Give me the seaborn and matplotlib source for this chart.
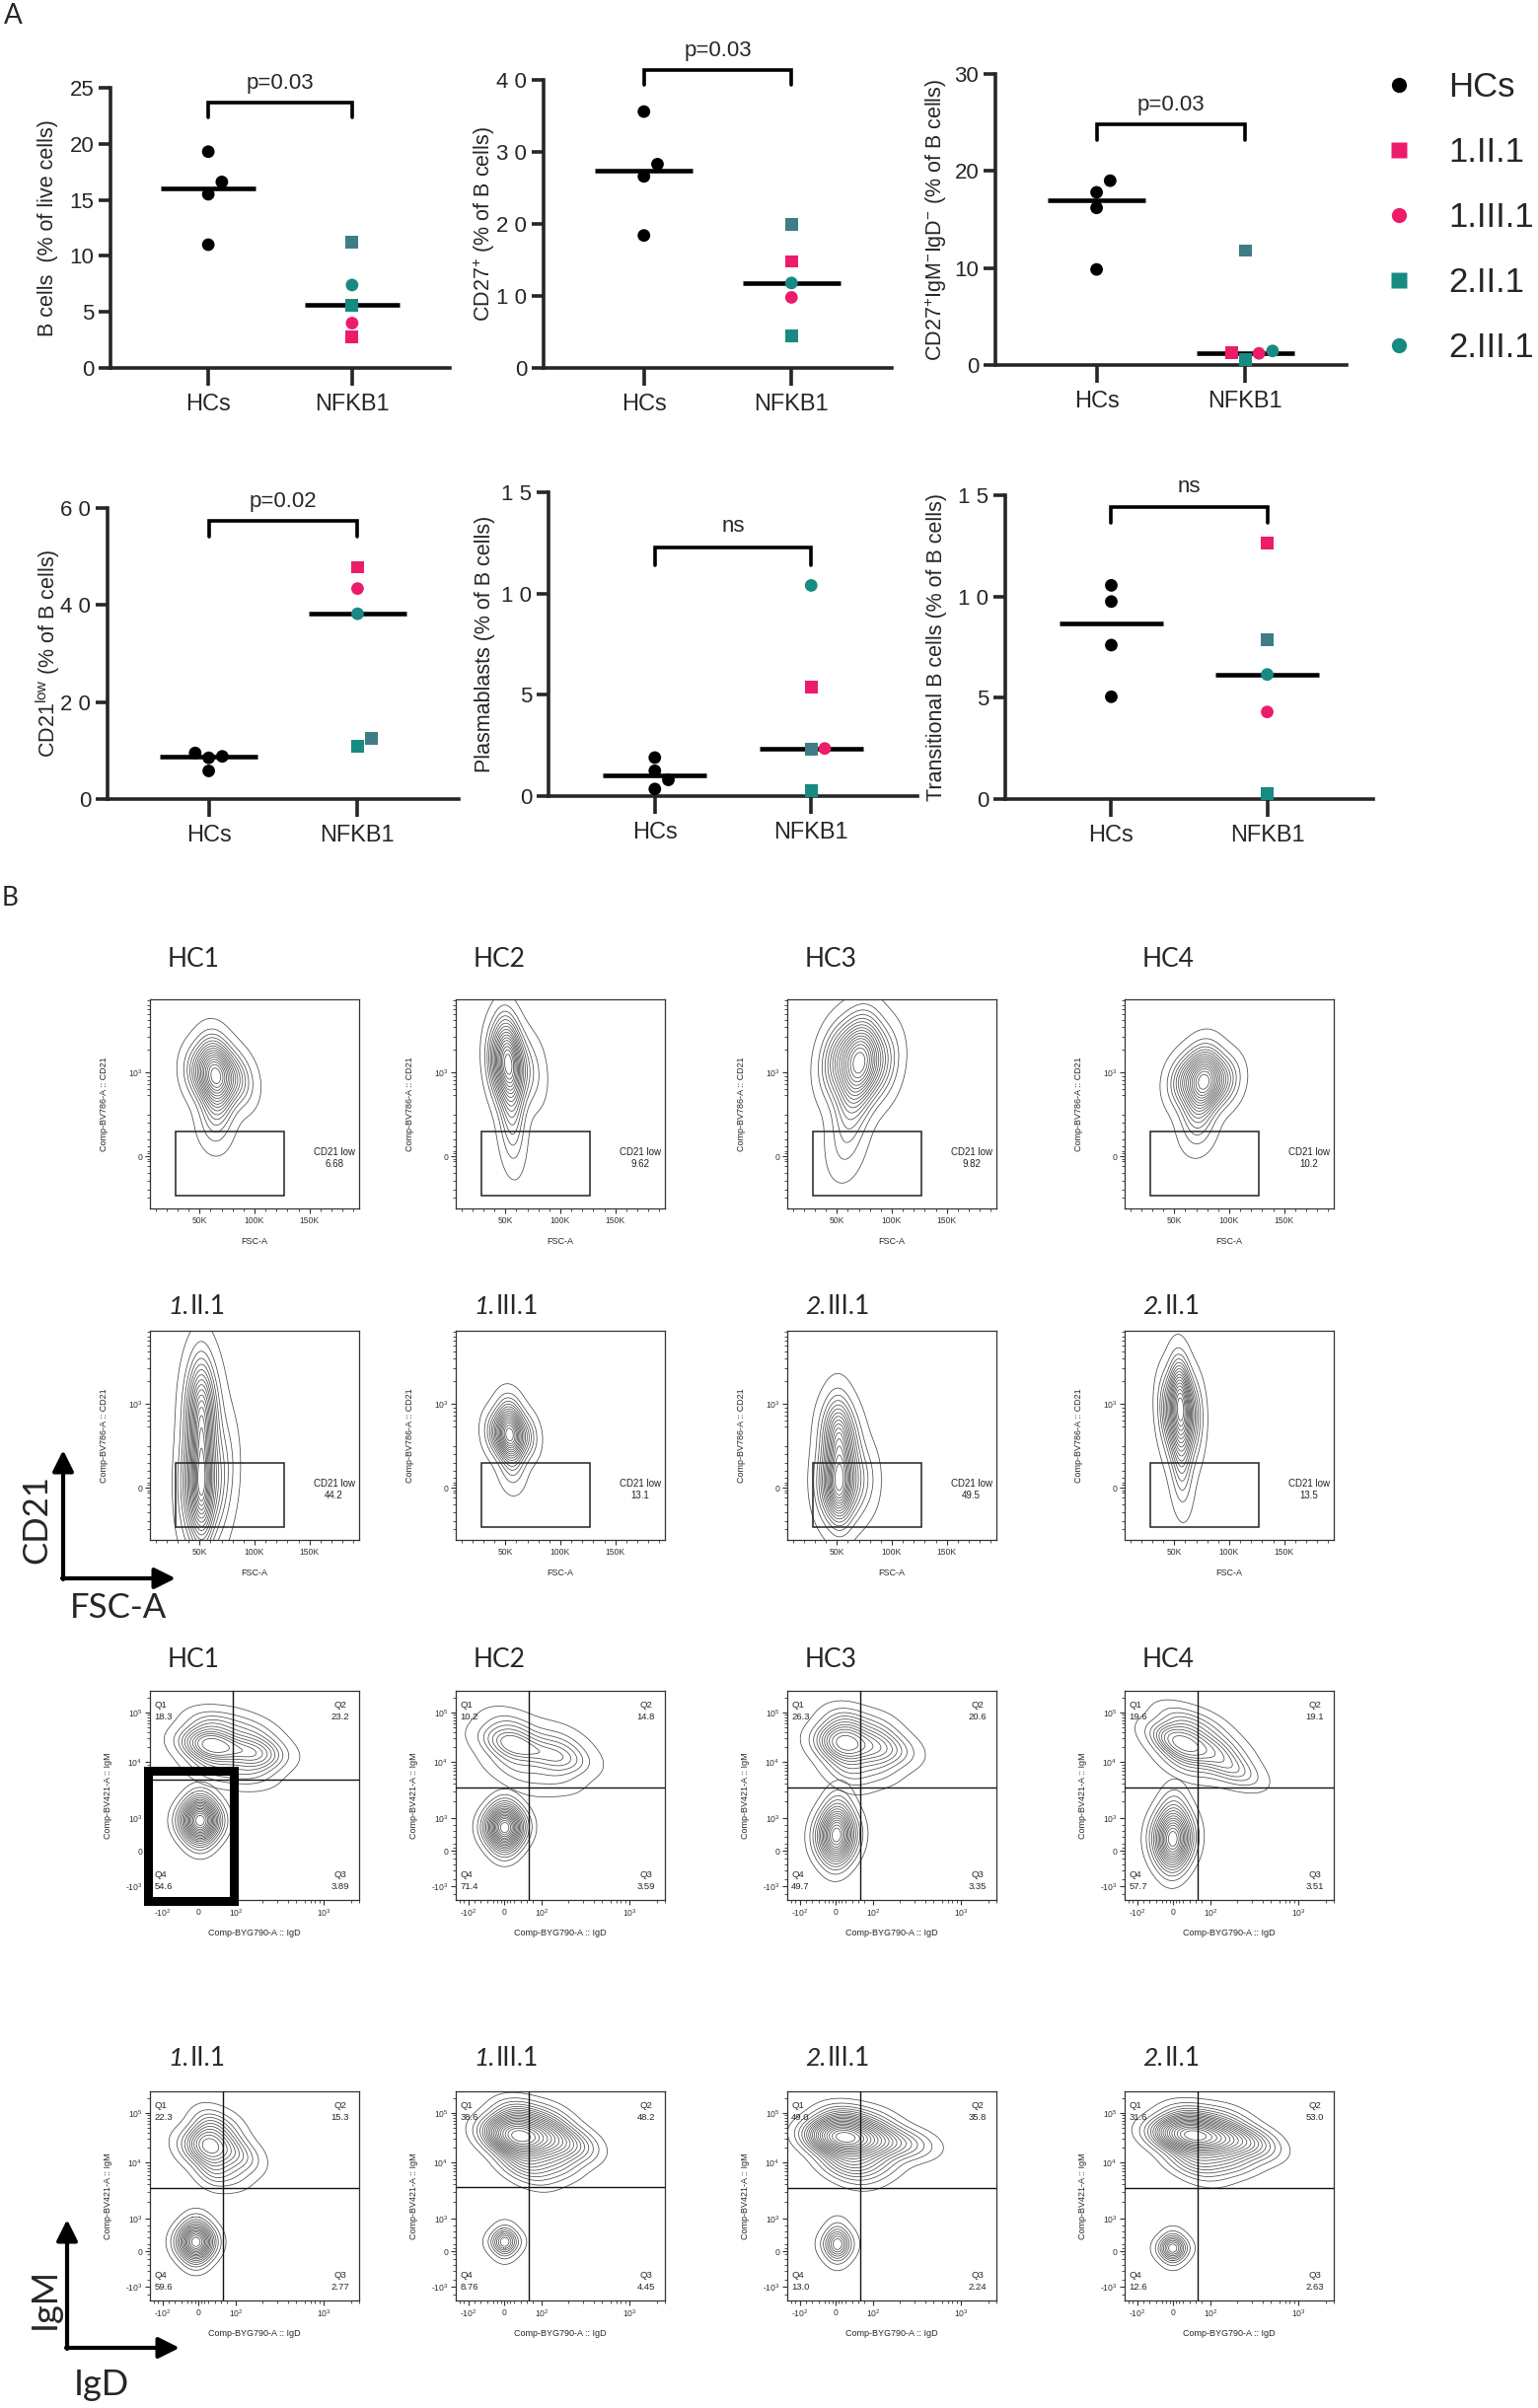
import numpy as np
import pandas as pd
import matplotlib
matplotlib.use("Agg")
import matplotlib.pyplot as plt
import seaborn as sns
from matplotlib.lines import Line2D
from matplotlib.patches import Rectangle, FancyArrowPatch

# ====================== DATA : panel A ======================
X_GROUPS = ["HCs", "NFKB1"]
NFKB1_IDS = ["1.II.1", "1.III.1", "2.II.1", "2.III.1", "2.II.1b"]
LEGEND_IDS = ["HCs", "1.II.1", "1.III.1", "2.II.1", "2.III.1"]

HC_BCELLS = [19.3, 16.6, 15.5, 11.0]
NF_BCELLS = [2.8, 4.0, 5.6, 7.4, 11.2]
HC_CD27 = [35.6, 28.3, 26.6, 18.4]
NF_CD27 = [14.8, 9.8, 4.4, 11.8, 19.9]
HC_SWITCHED = [19.0, 17.8, 16.2, 9.85]
NF_SWITCHED = [1.25, 1.2, 0.6, 1.45, 11.8]
HC_CD21LOW = [9.5, 8.8, 8.5, 5.8]
NF_CD21LOW = [47.8, 43.4, 10.8, 38.2, 12.5]
HC_PLASMA = [1.9, 1.25, 0.8, 0.35]
NF_PLASMA = [5.4, 2.35, 0.25, 10.4, 2.3]
HC_TRANS = [10.55, 9.75, 7.6, 5.05]
NF_TRANS = [12.65, 4.3, 0.25, 6.15, 7.85]

Y_LABELS = [
    "B cells  (% of live cells)",
    r"CD27$^{+}$ (% of B cells)",
    r"CD27$^{+}$IgM$^{-}$IgD$^{-}$ (% of B cells)",
    r"CD21$^{\rm low}$ (% of B cells)",
    "Plasmablasts (% of B cells)",
    "Transitional B cells (% of B cells)",
]
Y_MAX = [25, 40, 30, 60, 15, 15]
Y_TICKS = [[0, 5, 10, 15, 20, 25], [0, 10, 20, 30, 40], [0, 10, 20, 30],
           [0, 20, 40, 60], [0, 5, 10, 15], [0, 5, 10, 15]]
Y_TICK_LABELS = [["0", "5", "10", "15", "20", "25"], ["0", "1 0", "2 0", "3 0", "4 0"],
                 ["0", "10", "20", "30"], ["0", "2 0", "4 0", "6 0"],
                 ["0", "5", "1 0", "1 5"], ["0", "5", "1 0", "1 5"]]
P_TEXT = ["p=0.03", "p=0.03", "p=0.03", "p=0.02", "ns", "ns"]
BRACKET_Y = [(22.4, 23.7, 25.4), (39.3, 41.4, 44.0), (23.2, 24.8, 26.8),
             (54.1, 57.3, 61.4), (11.4, 12.25, 13.3), (13.65, 14.43, 15.4)]

# ====================== DATA : panel B ======================
ROW_HC = ["HC1", "HC2", "HC3", "HC4"]
ROW_PT = ["1.II.1", "1.III.1", "2.III.1", "2.II.1"]
CD21LOW_HC = ["6.68", "9.62", "9.82", "10.2"]
CD21LOW_PT = ["44.2", "13.1", "49.5", "13.5"]
# quadrant frequencies Q1, Q2, Q3, Q4
QUAD_HC1 = ["18.3", "23.2", "3.89", "54.6"]
QUAD_HC2 = ["10.2", "14.8", "3.59", "71.4"]
QUAD_HC3 = ["26.3", "20.6", "3.35", "49.7"]
QUAD_HC4 = ["19.6", "19.1", "3.51", "57.7"]
QUAD_1II1 = ["22.3", "15.3", "2.77", "59.6"]
QUAD_1III1 = ["38.6", "48.2", "4.45", "8.76"]
QUAD_2III1 = ["49.0", "35.8", "2.24", "13.0"]
QUAD_2II1 = ["31.6", "53.0", "2.63", "12.6"]

# population density anchors
# CD21 plots: (FSC-A [K], CD21 display unit, weight)
CD21_HC1 = [(65, 0.95, 6), (50, 1.0, 2), (80, 0.95, 2), (63, 1.2, 2), (66, 0.65, 2),
            (63, 0.35, 0.8), (90, 0.85, 0.6)]
CD21_HC2 = [(54, 1.1, 6), (44, 1.1, 3), (66, 1.05, 1.5), (52, 1.35, 2), (55, 0.75, 2),
            (56, 0.4, 1), (56, 0.1, 0.4), (78, 1.0, 0.5)]
CD21_HC3 = [(72, 1.12, 6), (52, 1.15, 3), (90, 1.1, 2), (70, 1.35, 2), (66, 0.8, 2),
            (62, 0.45, 0.8), (58, 0.1, 0.6)]
CD21_HC4 = [(78, 0.88, 6), (60, 0.9, 2.5), (95, 0.9, 2), (76, 1.1, 2), (72, 0.6, 2),
            (72, 0.3, 0.8)]
CD21_1II1 = [(52, 0.9, 4), (42, 0.9, 1.2), (63, 0.88, 1.2), (52, 1.1, 1.2), (52, 0.5, 2.0),
             (52, 0.0, 6), (40, 0.0, 2), (66, 0.03, 2), (52, -0.3, 1.5), (76, 0.3, 0.8)]
CD21_1III1 = [(54, 0.63, 6), (42, 0.65, 1.5), (68, 0.62, 1.5), (54, 0.88, 1.5),
              (56, 0.38, 1.2), (56, 0.15, 0.4)]
CD21_2III1 = [(52, 0.6, 3.5), (42, 0.6, 1.2), (64, 0.55, 1.2), (52, 0.82, 1.2), (52, 0.03, 6),
              (40, 0.03, 2), (66, 0.05, 2), (78, 0.12, 0.8), (52, -0.2, 1), (54, 0.3, 1.5)]
CD21_2II1 = [(56, 0.95, 6), (44, 0.95, 2), (68, 0.92, 1.5), (55, 1.22, 2), (56, 0.6, 2),
             (48, 0.6, 0.6), (66, 0.6, 0.6), (57, 0.25, 1), (57, -0.02, 0.4)]

# IgM/IgD plots: (IgD display fraction, IgM display fraction, weight), per population
IGM_HC1_Q4 = [(0.24, 0.38, 6), (0.175, 0.38, 1.6), (0.305, 0.38, 1.6), (0.24, 0.30, 1.5),
              (0.24, 0.46, 1.5)]
IGM_HC1_UP = [(0.29, 0.74, 3), (0.50, 0.70, 2), (0.38, 0.73, 1), (0.21, 0.74, 0.6),
              (0.59, 0.71, 0.5), (0.29, 0.84, 1.0), (0.29, 0.63, 0.8), (0.50, 0.80, 0.7),
              (0.49, 0.61, 0.7), (0.40, 0.60, 0.4), (0.40, 0.85, 0.4)]
IGM_HC2_Q4 = [(0.234, 0.345, 6), (0.17, 0.35, 1.6), (0.298, 0.35, 1.6), (0.234, 0.265, 1.5),
              (0.234, 0.425, 1.5)]
IGM_HC2_UP = [(0.27, 0.745, 1.5), (0.49, 0.68, 1), (0.38, 0.71, 0.5), (0.20, 0.75, 0.3),
              (0.56, 0.69, 0.3), (0.27, 0.83, 0.6), (0.27, 0.64, 0.5), (0.49, 0.77, 0.4),
              (0.47, 0.59, 0.4), (0.35, 0.56, 0.2)]
IGM_HC3_Q4 = [(0.235, 0.31, 5), (0.17, 0.31, 1.3), (0.30, 0.31, 1.3), (0.235, 0.23, 1.2),
              (0.235, 0.40, 1.2), (0.25, 0.48, 0.4)]
IGM_HC3_UP = [(0.28, 0.75, 3), (0.43, 0.73, 1.5), (0.54, 0.71, 0.6), (0.20, 0.75, 0.7),
              (0.28, 0.85, 1.0), (0.28, 0.64, 0.8), (0.43, 0.82, 0.6), (0.43, 0.63, 0.6),
              (0.32, 0.57, 0.3)]
IGM_HC4_Q4 = [(0.23, 0.29, 5), (0.165, 0.30, 1.3), (0.295, 0.30, 1.3), (0.23, 0.21, 1.2),
              (0.23, 0.39, 1.2), (0.24, 0.48, 0.4)]
IGM_HC4_UP = [(0.28, 0.75, 2.5), (0.42, 0.72, 1), (0.54, 0.62, 0.9), (0.20, 0.76, 0.6),
              (0.28, 0.85, 0.9), (0.28, 0.65, 0.7), (0.44, 0.63, 0.5), (0.50, 0.73, 0.4),
              (0.40, 0.83, 0.5)]
IGM_1II1_Q4 = [(0.22, 0.28, 5), (0.16, 0.28, 1.3), (0.28, 0.28, 1.3), (0.22, 0.21, 1.2),
               (0.22, 0.35, 1.2)]
IGM_1II1_UP = [(0.28, 0.74, 3), (0.19, 0.73, 0.7), (0.38, 0.72, 1.2), (0.47, 0.68, 0.6),
               (0.29, 0.84, 1.0), (0.30, 0.62, 1.0), (0.40, 0.61, 0.5), (0.38, 0.82, 0.5)]
IGM_1III1_Q4 = [(0.234, 0.28, 2), (0.19, 0.28, 0.6), (0.278, 0.28, 0.6), (0.234, 0.235, 0.6),
                (0.234, 0.325, 0.6)]
IGM_1III1_UP = [(0.30, 0.785, 5), (0.20, 0.79, 1.3), (0.44, 0.78, 2.5), (0.58, 0.74, 1.3),
                (0.30, 0.89, 1.4), (0.32, 0.66, 1.5), (0.48, 0.66, 1.1), (0.45, 0.87, 0.8),
                (0.40, 0.58, 0.4)]
IGM_2III1_Q4 = [(0.24, 0.27, 2), (0.195, 0.27, 0.6), (0.285, 0.27, 0.6), (0.24, 0.22, 0.6),
                (0.24, 0.33, 0.6)]
IGM_2III1_UP = [(0.264, 0.78, 5), (0.17, 0.78, 1.3), (0.40, 0.77, 2.5), (0.55, 0.75, 1.1),
                (0.27, 0.87, 1.3), (0.28, 0.66, 1.5), (0.42, 0.66, 0.9), (0.35, 0.58, 0.4),
                (0.42, 0.86, 0.6), (0.66, 0.74, 0.3)]
IGM_2II1_Q4 = [(0.23, 0.25, 2), (0.185, 0.25, 0.6), (0.275, 0.25, 0.6), (0.23, 0.205, 0.6),
               (0.23, 0.295, 0.6)]
IGM_2II1_UP = [(0.31, 0.79, 5), (0.20, 0.79, 1.2), (0.45, 0.78, 3), (0.60, 0.76, 1.5),
               (0.31, 0.88, 1.2), (0.33, 0.67, 1.5), (0.50, 0.67, 1.2), (0.48, 0.87, 0.8),
               (0.66, 0.71, 0.4), (0.40, 0.59, 0.4)]

# ====================== STYLE ======================
W, H = 1559, 2441
PINK = "#ec1c6b"
TEAL = "#178a82"
TEAL2 = "#3f7d86"
PALETTE = {"HCs": "black", "1.II.1": PINK, "1.III.1": PINK, "2.II.1": TEAL,
           "2.III.1": TEAL, "2.II.1b": TEAL2}
MARKERS = {"HCs": "o", "1.II.1": "s", "1.III.1": "o", "2.II.1": "s",
           "2.III.1": "o", "2.II.1b": "s"}

sns.set_theme(style="ticks")
plt.rcParams["font.family"] = ["Liberation Sans", "DejaVu Sans"]
plt.rcParams["mathtext.fontset"] = "custom"
plt.rcParams["mathtext.rm"] = "Liberation Sans"
plt.rcParams["mathtext.it"] = "Liberation Sans:italic"
plt.rcParams["mathtext.bf"] = "Liberation Sans:bold"
plt.rcParams["mathtext.default"] = "regular"

fig = plt.figure(figsize=(W / 100, H / 100), dpi=100)
fig.patch.set_facecolor("white")


def rect(l, t, r, b):
    return [l / W, 1 - b / H, (r - l) / W, (b - t) / H]


def swarm_offsets(vals, ypx_per_unit, xpx_per_unit, diam_px=12.5):
    vals = np.asarray(vals, float)
    order = np.argsort(vals)
    placed = []
    offs = np.zeros(len(vals))
    for i in order:
        ypx = vals[i] * ypx_per_unit
        xpx = 0.0
        for k in [0, 1, -1, 2, -2, 3, -3]:
            xpx = k * diam_px * 1.1
            if all((xpx - a) ** 2 + (ypx - b) ** 2 >= diam_px ** 2 for a, b in placed):
                break
        placed.append((xpx, ypx))
        offs[i] = xpx / xpx_per_unit
    return offs


# ---------------- panel A ----------------
A_RECTS = [(112, 89, 456, 373), (551, 81, 904, 373), (1009, 75, 1365, 370),
           (109, 515, 465, 810), (556, 499, 930, 807), (1019, 502, 1392, 810)]
A_LABEL_OFF = [63, 60, 60, 60, 65, 70]
HC_SETS = [HC_BCELLS, HC_CD27, HC_SWITCHED, HC_CD21LOW, HC_PLASMA, HC_TRANS]
NF_SETS = [NF_BCELLS, NF_CD27, NF_SWITCHED, NF_CD21LOW, NF_PLASMA, NF_TRANS]
XLIM = (-0.68, 1.68)

for i in range(6):
    l, t, r, b = A_RECTS[i]
    ax = fig.add_axes(rect(l, t, r, b))
    ypu = (b - t) / Y_MAX[i]
    xpu = (r - l) / (XLIM[1] - XLIM[0])
    hc = HC_SETS[i]
    nf = NF_SETS[i]
    df = pd.DataFrame({
        "sample": ["HCs"] * len(hc) + NFKB1_IDS,
        "group": ["HCs"] * len(hc) + ["NFKB1"] * len(nf),
        "value": list(hc) + list(nf),
    })
    off = np.concatenate([swarm_offsets(hc, ypu, xpu), swarm_offsets(nf, ypu, xpu)])
    df["x"] = np.where(df["group"] == "HCs", 0.0, 1.0) + off

    sns.boxplot(data=df, x="group", y="value", order=X_GROUPS, ax=ax, width=0.66,
                showbox=False, showcaps=False, showfliers=False, whis=0,
                whiskerprops={"visible": False},
                medianprops={"color": "black", "linewidth": 3.3, "solid_capstyle": "butt"})
    sns.scatterplot(data=df, x="x", y="value", hue="sample", style="sample",
                    palette=PALETTE, markers=MARKERS, s=85, edgecolor="none",
                    legend=False, ax=ax, zorder=4, clip_on=False)
    ax.set_xlim(*XLIM)
    ax.set_ylim(0, Y_MAX[i])
    ax.set_xticks([0, 1])
    ax.set_xticklabels(X_GROUPS)
    ax.set_yticks(Y_TICKS[i])
    ax.set_yticklabels(Y_TICK_LABELS[i])
    ax.set_xlabel("")
    ax.set_ylabel("")
    sns.despine(ax=ax)
    for sp in ("left", "bottom"):
        ax.spines[sp].set_linewidth(2.6)
    ax.tick_params(axis="y", labelsize=16, width=2.6, length=9, pad=3)
    ax.tick_params(axis="x", labelsize=17, width=2.6, length=13, pad=6)
    ax.patch.set_alpha(0)
    ax.text(-A_LABEL_OFF[i] / (r - l), 0.5, Y_LABELS[i], transform=ax.transAxes,
            rotation=90, ha="center", va="center", fontsize=15.5)
    lo, hi, ty = BRACKET_Y[i]
    ax.plot([0, 0, 1, 1], [lo, hi, hi, lo], color="black", lw=2.6, clip_on=False,
            solid_joinstyle="miter")
    ax.text(0.5, ty, P_TEXT[i], ha="center", va="center", fontsize=16, clip_on=False)

# legend
handles = [Line2D([0], [0], marker=MARKERS[k], color="none", markerfacecolor=PALETTE[k],
                  markeredgecolor="none", markersize=11) for k in LEGEND_IDS]
fig.legend(handles, LEGEND_IDS, loc="upper left", bbox_to_anchor=(1402 / W, 1 - 72 / H),
           frameon=False, fontsize=25, handlelength=0.9, handletextpad=1.0,
           labelspacing=0.95, borderaxespad=0, borderpad=0)

fig.text(4 / W, 1 - 3 / H, "A", fontsize=20, family="Lato", va="top", ha="left")
fig.text(2 / W, 1 - 898 / H, "B", fontsize=19, family="Lato", va="top", ha="left")

# ---------------- panel B ----------------
COL_L = [152, 462, 798, 1140]
ROW_T = [1013, 1349, 1714, 2120]
BOX = 212
TITLE_Y = [972, 1325, 1682, 2087]

CD21_SETS = [CD21_HC1, CD21_HC2, CD21_HC3, CD21_HC4, CD21_1II1, CD21_1III1, CD21_2III1, CD21_2II1]
IGM_SETS = [(IGM_HC1_Q4, IGM_HC1_UP), (IGM_HC2_Q4, IGM_HC2_UP), (IGM_HC3_Q4, IGM_HC3_UP),
            (IGM_HC4_Q4, IGM_HC4_UP), (IGM_1II1_Q4, IGM_1II1_UP), (IGM_1III1_Q4, IGM_1III1_UP),
            (IGM_2III1_Q4, IGM_2III1_UP), (IGM_2II1_Q4, IGM_2II1_UP)]
IGM_LEVELS = [(18, 12), (18, 8), (16, 12), (16, 11), (16, 12), (9, 20), (9, 20), (10, 20)]
IGM_BW = (1.5, 1.0)
QUAD_SETS = [QUAD_HC1, QUAD_HC2, QUAD_HC3, QUAD_HC4, QUAD_1II1, QUAD_1III1, QUAD_2III1, QUAD_2II1]
QUAD_LINES = [(0.395, 0.577), (0.351, 0.54), (0.35, 0.54), (0.35, 0.54),
              (0.35, 0.54), (0.351, 0.543), (0.35, 0.54), (0.35, 0.54)]
CD21_LOWS = CD21LOW_HC + CD21LOW_PT
NAMES = ROW_HC + ROW_PT

GRAY = "#4a4a4a"
FLOW_FS = 6.2


def title(x, y, name):
    if name.startswith("HC"):
        fig.text(x / W, 1 - y / H, name, fontsize=19, family="Lato", va="center", ha="left")
    else:
        t1 = fig.text(x / W, 1 - y / H, name[:2], fontsize=19, family="Lato",
                      style="italic", va="center", ha="left")
        fig.canvas.draw()
        bb = t1.get_window_extent()
        fig.text(bb.x1 / W + 1 / W, 1 - y / H, name[2:], fontsize=19, family="Lato",
                 va="center", ha="left")


def style_flow_axes(ax):
    for sp in ax.spines.values():
        sp.set_visible(True)
        sp.set_linewidth(0.9)
        sp.set_color("#333333")
    ax.tick_params(which="major", labelsize=FLOW_FS, length=3.5, width=0.8, pad=2,
                   colors="#333333")
    ax.tick_params(which="minor", length=2, width=0.6, colors="#333333")
    ax.patch.set_alpha(0)


def contours(ax, pts, xname, yname, levels, bw, thresh):
    d = pd.DataFrame(pts, columns=[xname, yname, "w"])
    sns.kdeplot(data=d, x=xname, y=yname, weights="w", levels=levels, thresh=thresh,
                bw_adjust=bw, color=GRAY, linewidths=0.55, ax=ax)


def cd21_plot(ax, pts, low):
    contours(ax, pts, "fsc", "cd21", 17, 1.15, 0.02)
    ax.set_xlim(5, 195)
    ax.set_ylim(-0.625, 1.875)
    ax.set_xticks([50, 100, 150])
    ax.set_xticklabels(["50K", "100K", "150K"])
    ax.set_xticks(np.arange(10, 195, 10), minor=True)
    ax.set_yticks([0, 1])
    ax.set_yticklabels(["0", r"10$^3$"])
    ax.set_yticks([-0.5, -0.4, -0.3, -0.2, -0.12, -0.06, -0.03, 0.03, 0.06, 0.12, 0.2,
                   0.3, 0.4, 0.5, 0.73, 0.8, 0.86, 0.91, 0.96, 1.27, 1.43, 1.54, 1.63,
                   1.7, 1.76, 1.81, 1.86], minor=True)
    ax.add_patch(Rectangle((28.6, -0.475), 98.4, 0.775, fill=False, lw=1.1,
                           edgecolor="#222222", zorder=5))
    ax.text(0.88, 0.27, "CD21 low", transform=ax.transAxes, fontsize=7, ha="center",
            va="center", color="#222222")
    ax.text(0.88, 0.21, low, transform=ax.transAxes, fontsize=7, ha="center",
            va="center", color="#222222")
    ax.set_xlabel("FSC-A", fontsize=6.5, labelpad=9)
    ax.set_ylabel("Comp-BV786-A :: CD21", fontsize=6.5, labelpad=14)
    style_flow_axes(ax)


def igm_plot(ax, pops, levels, quads, qline):
    for pts, lv, bw in zip(pops, levels, IGM_BW):
        contours(ax, pts, "igd", "igm", lv, bw, 0.04)
    ax.set_xlim(0, 1)
    ax.set_ylim(0, 1)
    ax.set_xticks([0.061, 0.23, 0.41, 0.83])
    ax.set_xticklabels([r"-10$^2$", "0", r"10$^2$", r"10$^3$"])
    xm = [0.02, 0.04, 0.09, 0.12, 0.15, 0.18, 0.2, 0.215, 0.245, 0.26, 0.28, 0.31, 0.34,
          0.37, 0.536, 0.61, 0.66, 0.70, 0.74, 0.77, 0.79, 0.81, 0.96, 1.0]
    ax.set_xticks(xm, minor=True)
    ax.set_yticks([0.066, 0.235, 0.392, 0.662, 0.897])
    ax.set_yticklabels([r"-10$^3$", "0", r"10$^3$", r"10$^4$", r"10$^5$"])
    ym = [0.03, 0.1, 0.14, 0.17, 0.2, 0.22, 0.25, 0.27, 0.3, 0.33, 0.36, 0.473, 0.521,
          0.555, 0.58, 0.6, 0.617, 0.632, 0.646, 0.733, 0.774, 0.803, 0.826, 0.844,
          0.859, 0.872, 0.885, 0.968]
    ax.set_yticks(ym, minor=True)
    ax.axvline(qline[0], color="#111111", lw=1.0, zorder=5)
    ax.axhline(qline[1], color="#111111", lw=1.0, zorder=5)
    fs = 6.8
    ax.text(0.02, 0.93, "Q1", transform=ax.transAxes, fontsize=fs, va="center")
    ax.text(0.02, 0.875, quads[0], transform=ax.transAxes, fontsize=fs, va="center")
    ax.text(0.91, 0.93, "Q2", transform=ax.transAxes, fontsize=fs, va="center", ha="center")
    ax.text(0.91, 0.875, quads[1], transform=ax.transAxes, fontsize=fs, va="center", ha="center")
    ax.text(0.91, 0.12, "Q3", transform=ax.transAxes, fontsize=fs, va="center", ha="center")
    ax.text(0.91, 0.063, quads[2], transform=ax.transAxes, fontsize=fs, va="center", ha="center")
    ax.text(0.02, 0.12, "Q4", transform=ax.transAxes, fontsize=fs, va="center")
    ax.text(0.02, 0.063, quads[3], transform=ax.transAxes, fontsize=fs, va="center")
    ax.set_xlabel("Comp-BYG790-A :: IgD", fontsize=6.5, labelpad=7)
    ax.set_ylabel("Comp-BV421-A :: IgM", fontsize=6.5, labelpad=9)
    style_flow_axes(ax)


for k in range(8):
    row = 0 if k < 4 else 1
    col = k % 4
    l = COL_L[col]
    t = ROW_T[row]
    ax = fig.add_axes(rect(l, t, l + BOX, t + BOX))
    cd21_plot(ax, CD21_SETS[k], CD21_LOWS[k])
    title(l + 18, TITLE_Y[row], NAMES[k])

for k in range(8):
    row = 2 if k < 4 else 3
    col = k % 4
    l = COL_L[col]
    t = ROW_T[row]
    ax = fig.add_axes(rect(l, t, l + BOX, t + BOX))
    igm_plot(ax, IGM_SETS[k], IGM_LEVELS[k], QUAD_SETS[k], QUAD_LINES[k])
    title(l + 18, TITLE_Y[row], NAMES[k])
    if k == 0:
        ax.add_patch(Rectangle((-0.01, -0.005), 0.41, 0.625, fill=False, lw=6.5,
                               edgecolor="black", transform=ax.transAxes, clip_on=False,
                               zorder=6))


# orientation arrows
def fig_arrow(x0, y0, x1, y1):
    fig.add_artist(FancyArrowPatch((x0 / W, 1 - y0 / H), (x1 / W, 1 - y1 / H),
                                   transform=fig.transFigure, arrowstyle="-|>",
                                   mutation_scale=32, lw=3, color="black",
                                   shrinkA=0, shrinkB=0))


fig_arrow(64, 1601, 64, 1470)
fig_arrow(63, 1600, 178, 1600)
fig.text(37 / W, 1 - 1540 / H, "CD21", rotation=90, fontsize=25, family="Lato",
         ha="center", va="center")
fig.text(120 / W, 1 - 1630 / H, "FSC-A", fontsize=25, family="Lato", ha="center", va="center")

fig_arrow(68, 2381, 68, 2250)
fig_arrow(67, 2380, 182, 2380)
fig.text(45 / W, 1 - 2330 / H, "IgM", rotation=90, fontsize=26, family="Lato",
         ha="center", va="center")
fig.text(103 / W, 1 - 2418 / H, "IgD", fontsize=26, family="Lato", ha="center", va="center")

fig.savefig("out.png", dpi=100, facecolor="white")
